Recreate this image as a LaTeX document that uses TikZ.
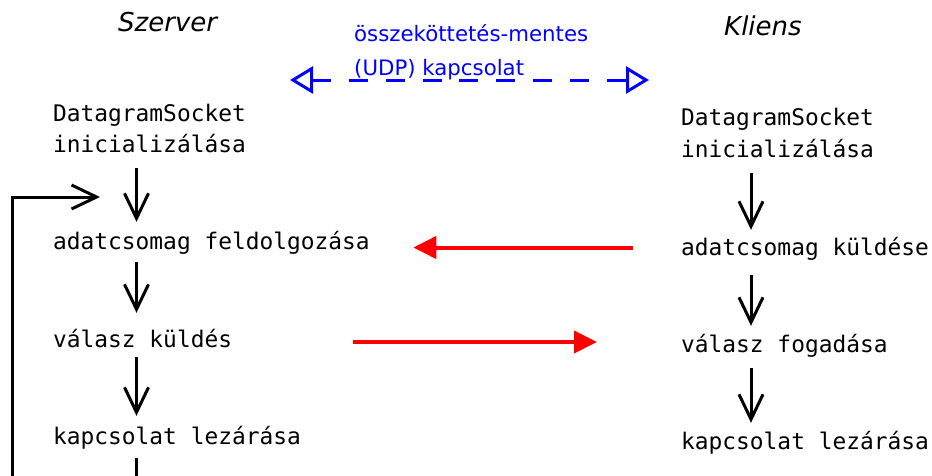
\documentclass[tikz,border=0pt]{standalone}
\usepackage{fontspec}
\setmainfont{DejaVu Sans}
\newfontfamily\codefont{DejaVu Sans Mono}
\usetikzlibrary{arrows.meta,calc}

\tikzset{
  codetext/.style={anchor=base west, inner sep=0pt,
    font=\codefont\fontsize{22.85}{31}\selectfont,
    text height=17pt, text depth=2pt},
  sidetitle/.style={anchor=base west, inner sep=0pt,
    font=\itshape\fontsize{26}{30}\selectfont},
  linktext/.style={anchor=base west, inner sep=0pt, text=blue,
    font=\fontsize{21.3}{33}\selectfont},
  flow/.style={draw=black, line width=3pt,
    -{Straight Barb[length=25pt,width=24pt]}},
  msg/.style={draw=red, line width=4pt,
    -{Triangle[length=23pt,width=22pt]}},
  link/.style={draw=blue, line width=3pt,
    dash pattern=on 19pt off 17.8pt,
    {Triangle[open,length=23pt,width=27pt]}-{Triangle[open,length=23pt,width=27pt]}},
}

\begin{document}
\begin{tikzpicture}[x=1pt,y=-1pt]
  \useasboundingbox (0,0) rectangle (932,475);

  % column titles
  \node[sidetitle] (szerver) at (118,31.5) {Szerver};
  \node[sidetitle] (kliens)  at (724,35.5) {Kliens};

  % connectionless link between the two sides
  \coordinate (linkL) at (290,80);
  \coordinate (linkR) at (649,80);
  \draw[link] (linkL) -- (linkR);
  \node[linktext] (udp1) at (354,41.7) {összeköttetés-mentes};
  \node[linktext] (udp2) at (354,75)   {(UDP) kapcsolat};

  % server steps
  \node[codetext] (sdg)    at (53,121)   {DatagramSocket};
  \node[codetext] (sinit)  at (53,152)   {inicializálása};
  \node[codetext] (sproc)  at (53,249.5) {adatcsomag feldolgozása};
  \node[codetext] (sreply) at (53,347)   {válasz küldés};
  \node[codetext] (sclose) at (53,444)   {kapcsolat lezárása};

  % client steps
  \node[codetext] (cdg)    at (681,125) {DatagramSocket};
  \node[codetext] (cinit)  at (681,157) {inicializálása};
  \node[codetext] (csend)  at (681,255) {adatcsomag küldése};
  \node[codetext] (crecv)  at (681,352) {válasz fogadása};
  \node[codetext] (cclose) at (681,449) {kapcsolat lezárása};

  % axes of the two flows
  \coordinate (sx) at (136.5,0);
  \coordinate (cx) at (751,0);

  % server flow
  \draw[flow, shorten <=14pt, shorten >=10.5pt] (sinit.south -| sx) -- (sproc.north -| sx);
  \draw[flow, shorten <=10.5pt, shorten >=17pt] (sproc.south -| sx) -- (sreply.north -| sx);
  \draw[flow, shorten <=8pt, shorten >=11pt]    (sreply.south -| sx) -- (sclose.north -| sx);
  \coordinate (snext) at (136.5,520);
  \draw[flow, -, shorten <=12pt] (sclose.south -| sx) -- (snext);

  % loop back to packet processing
  \coordinate (loopfoot) at (12,520);
  \coordinate (loopin) at (100,197);
  \draw[flow] (loopfoot) |- (loopin);

  % client flow
  \draw[flow, shorten <=14pt, shorten >=8pt] (cinit.south -| cx) -- (csend.north -| cx);
  \draw[flow, shorten <=18pt, shorten >=9pt] (csend.south -| cx) -- (crecv.north -| cx);
  \draw[flow, shorten <=14pt, shorten >=9pt] (crecv.south -| cx) -- (cclose.north -| cx);

  % packets exchanged
  \draw[msg, shorten <=48pt, shorten >=43.5pt] (csend.west) -- (csend.west -| sproc.east);
  \coordinate (replymid) at ($(sreply.east)!.5!(crecv.west)$);
  \draw[msg, shorten <=121pt, shorten >=84pt] (replymid -| sreply.east) -- (replymid -| crecv.west);
\end{tikzpicture}
\end{document}
